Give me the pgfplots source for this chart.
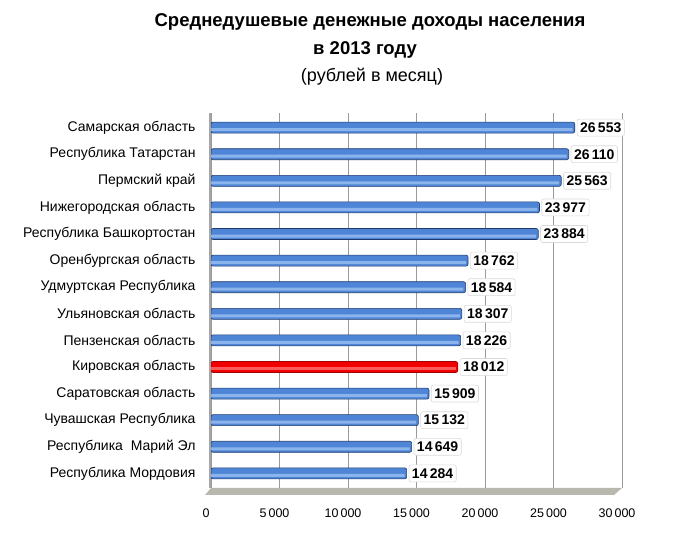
\documentclass[border=0pt]{standalone}
\usepackage{pgfplots}
\pgfplotsset{compat=1.18}
\usepackage{fontspec}
\setmainfont{Liberation Sans}
\definecolor{bluetop}{HTML}{9CC0F2}
\definecolor{bluemid}{HTML}{4F85D6}
\definecolor{blueedge}{HTML}{1F3A6B}
\definecolor{redtop}{HTML}{FF7070}
\definecolor{redmid}{HTML}{F00000}
\definecolor{redbot}{HTML}{A00000}
\definecolor{gridc}{HTML}{9A9A9A}
\definecolor{floorc}{HTML}{B8B8AE}
\begin{document}
\begin{tikzpicture}
\path[use as bounding box] (0,0) rectangle (696bp,542bp);
\node[font=\bfseries\fontsize{18.5bp}{21bp}\selectfont] at (370bp,520bp) {Среднедушевые денежные доходы населения};
\node[font=\bfseries\fontsize{18.5bp}{21bp}\selectfont] at (365bp,492bp) {в 2013 году};
\node[font=\fontsize{18bp}{21bp}\selectfont] at (372bp,465bp) {(рублей в месяц)};
\begin{axis}[
  at={(211bp,54bp)}, anchor=south west,
  scale only axis, width=411bp, height=375bp,
  xmin=0, xmax=30000,
  ymin=-0.55, ymax=13.55, y dir=reverse,
  ytick={0,...,13},
  yticklabels={Самарская область,Республика Татарстан,Пермский край,Нижегородская область,Республика Башкортостан,Оренбургская область,Удмуртская Республика,Ульяновская область,Пензенская область,Кировская область,Саратовская область,Чувашская Республика,{Республика\ \ Марий Эл},Республика Мордовия},
  xtick={0,5000,...,30000},
  scaled x ticks=false,
  major tick length=0pt,
  xmajorgrids, grid style={gridc, line width=0.9bp},
  axis line style={draw=none},
  /pgf/number format/assume math mode=true,
  /pgf/number format/1000 sep={\,},
  xticklabel style={font=\fontsize{12.5bp}{14bp}\selectfont, yshift=-17bp, xshift=-5bp, /pgf/number format/fixed},
  yticklabel style={font=\fontsize{14bp}{16bp}\selectfont, xshift=-12bp},
  xbar, bar width=11bp,
  clip=false,
]
\addplot[bar shift=0pt, draw=blueedge, line width=0.6bp, fill=bluemid, rounded corners=2bp,
  nodes near coords,
  nodes near coords style={anchor=west, font=\bfseries\fontsize{14bp}{16bp}\selectfont, fill=white, draw=gray!30, inner xsep=3bp, inner ysep=3.5bp, xshift=2bp, /pgf/number format/1000 sep={\,}, /pgf/number format/assume math mode=true}] coordinates {
(26553,0) (26110,1) (25563,2) (23977,3) (23884,4) (18762,5) (18584,6) (18307,7) (18226,8) (15909,10) (15132,11) (14649,12) (14284,13)};
\addplot[bar shift=0pt, draw=redbot, line width=0.6bp, fill=redmid, rounded corners=2bp,
  nodes near coords,
  nodes near coords style={anchor=west, font=\bfseries\fontsize{14bp}{16bp}\selectfont, fill=white, draw=gray!30, inner xsep=3bp, inner ysep=3.5bp, xshift=2bp, /pgf/number format/1000 sep={\,}, /pgf/number format/assume math mode=true}] coordinates {(18012,9)};
% highlight bands
\addplot[bar shift=-2bp, bar width=3bp, draw=none, fill=bluetop, fill opacity=0.8] coordinates {
(26400,0) (25960,1) (25410,2) (23830,3) (23740,4) (18610,5) (18430,6) (18160,7) (18080,8) (15760,10) (14980,11) (14500,12) (14140,13)};
\addplot[bar shift=-2bp, bar width=3bp, draw=none, fill=redtop, fill opacity=0.8] coordinates {(17860,9)};
\end{axis}
\fill[floorc] (211bp,54bp) -- (622bp,54bp) -- (614bp,47bp) -- (205bp,47bp) -- cycle;
\draw[gray!70, line width=1.8bp] (210bp,54bp) -- (210bp,429bp);
\end{tikzpicture}
\end{document}
